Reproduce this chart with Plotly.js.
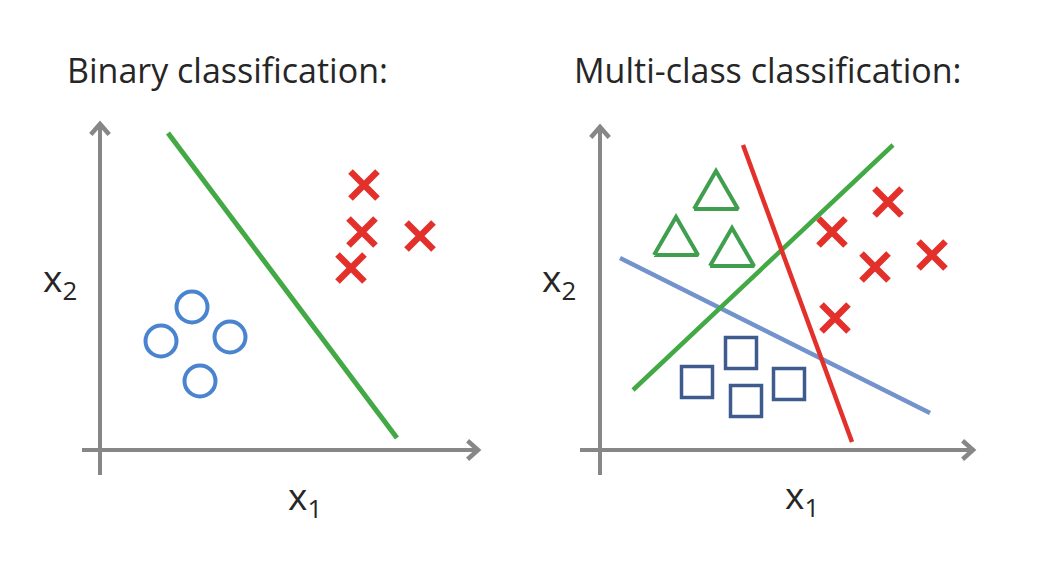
<!DOCTYPE html>
<html><head><meta charset="utf-8">
<script src="https://cdn.plot.ly/plotly-3.0.1.min.js"></script>
<style>html,body{margin:0;padding:0;background:#fff}#chart{width:1058px;height:578px}</style>
</head><body><div id="chart"></div><script>
// ---- text ----
const panelTitles = ["Binary classification:", "Multi-class classification:"];
const xLabelText = "x<sub>1</sub>";
const yLabelText = "x<sub>2</sub>";

// ---- Binary classification (left panel, data units) ----
const binBoundaryX = [1.7, 7.425];
const binBoundaryY = [7.925, 0.3];
const binCrossX = [6.6, 6.55, 6.275, 8.0];
const binCrossY = [6.625, 5.45, 4.55, 5.35];
const binCircleX = [2.3, 1.525, 3.25, 2.5];
const binCircleY = [3.575, 2.725, 2.825, 1.725];

// ---- Multi-class classification (right panel, data units) ----
const redLineX = [3.575, 6.3];
const redLineY = [7.625, 0.2];
const greenLineX = [7.325, 0.825];
const greenLineY = [7.625, 1.5];
const blueLineX = [0.5, 8.25];
const blueLineY = [4.8, 0.925];
const triangleX = [2.9, 1.9, 3.3];
const triangleY = [6.5, 5.35, 5.075];
const squareX = [3.525, 2.425, 3.65, 4.725];
const squareY = [2.425, 1.7, 1.225, 1.65];
const mcCrossX = [5.8, 7.2, 6.875, 8.3, 5.875];
const mcCrossY = [5.45, 6.2, 4.575, 4.875, 3.3];

// ---- axis arrows (data units) ----
const leftAxisX = [-0.45, 9.45];
const leftAxisY = [-0.625, 8.15];
const rightAxisX = [-0.5, 9.325];
const rightAxisY = [-0.625, 8.075];

// ---- styles ----
const RED = '#e3302a', GREEN = '#42a944', TRI_GREEN = '#3f9f4f';
const CIRCLE_BLUE = '#4a84cf', LINE_BLUE = '#7293cc', SQUARE_BLUE = '#3f5b8e';
const GRAY = '#878787';
const TRI_W = 1.1, TRI_H = 0.95;
const HEAD_HALF = 0.23, HEAD_DEPTH = 0.26;

function triangleOutline(xs, ys, w, h) {
  const px = [], py = [];
  xs.forEach((cx, i) => {
    const cy = ys[i];
    px.push(cx - w / 2, cx + w / 2, cx, cx - w / 2, null);
    py.push(cy - h / 2, cy - h / 2, cy + h / 2, cy - h / 2, null);
  });
  return {x: px, y: py};
}
const tri = triangleOutline(triangleX, triangleY, TRI_W, TRI_H);

// axis shafts + chevron heads, built from the extents above
function axisTraces(xref, ax, ay) {
  const common = {xaxis: xref, yaxis: 'y', mode: 'lines', hoverinfo: 'skip'};
  return [
    Object.assign({x: [ax[0], ax[1] - 0.05], y: [0, 0], line: {color: GRAY, width: 4}}, common),
    Object.assign({x: [0, 0], y: [ay[0], ay[1] - 0.05], line: {color: GRAY, width: 4}}, common),
    Object.assign({x: [ax[1] - HEAD_DEPTH, ax[1], ax[1] - HEAD_DEPTH], y: [HEAD_HALF, 0, -HEAD_HALF],
      line: {color: GRAY, width: 4.5}}, common),
    Object.assign({x: [-HEAD_HALF, 0, HEAD_HALF], y: [ay[1] - HEAD_DEPTH, ay[1], ay[1] - HEAD_DEPTH],
      line: {color: GRAY, width: 4.5}}, common)
  ];
}

const traces = [].concat(
  axisTraces('x', leftAxisX, leftAxisY),
  axisTraces('x2', rightAxisX, rightAxisY),
  [
  {x: binBoundaryX, y: binBoundaryY, xaxis: 'x', yaxis: 'y', mode: 'lines',
   line: {color: GREEN, width: 5}},
  {x: binCrossX, y: binCrossY, xaxis: 'x', yaxis: 'y', mode: 'markers',
   marker: {symbol: 'x-thin-open', size: 27, color: RED, line: {color: RED, width: 6.5}}},
  {x: binCircleX, y: binCircleY, xaxis: 'x', yaxis: 'y', mode: 'markers',
   marker: {symbol: 'circle-open', size: 31, color: CIRCLE_BLUE, line: {color: CIRCLE_BLUE, width: 4}}},

  {x: blueLineX, y: blueLineY, xaxis: 'x2', yaxis: 'y', mode: 'lines',
   line: {color: LINE_BLUE, width: 4.5}},
  {x: greenLineX, y: greenLineY, xaxis: 'x2', yaxis: 'y', mode: 'lines',
   line: {color: GREEN, width: 4.5}},
  {x: redLineX, y: redLineY, xaxis: 'x2', yaxis: 'y', mode: 'lines',
   line: {color: RED, width: 4.5}},
  {x: tri.x, y: tri.y, xaxis: 'x2', yaxis: 'y', mode: 'lines',
   line: {color: TRI_GREEN, width: 4}},
  {x: squareX, y: squareY, xaxis: 'x2', yaxis: 'y', mode: 'markers',
   marker: {symbol: 'square-open', size: 31, color: SQUARE_BLUE, line: {color: SQUARE_BLUE, width: 3.5}}},
  {x: mcCrossX, y: mcCrossY, xaxis: 'x2', yaxis: 'y', mode: 'markers',
   marker: {symbol: 'x-thin-open', size: 27, color: RED, line: {color: RED, width: 6.5}}}
  ]
);

const titleFont = {family: 'Open Sans, sans-serif', size: 34, color: '#262626'};
const labelFont = {family: 'Open Sans, sans-serif', size: 37, color: '#262626'};

const annotations = [
  {xref: 'paper', yref: 'paper', x: 65 / 1058, y: 1 - 70 / 578, xanchor: 'left', yanchor: 'middle',
   text: panelTitles[0], showarrow: false, font: titleFont},
  {xref: 'paper', yref: 'paper', x: 572 / 1058, y: 1 - 70 / 578, xanchor: 'left', yanchor: 'middle',
   text: panelTitles[1], showarrow: false, font: titleFont},
  {xref: 'paper', yref: 'paper', x: 41 / 1058, y: 1 - 280 / 578, xanchor: 'left', yanchor: 'middle',
   text: yLabelText, showarrow: false, font: labelFont},
  {xref: 'paper', yref: 'paper', x: 540 / 1058, y: 1 - 280 / 578, xanchor: 'left', yanchor: 'middle',
   text: yLabelText, showarrow: false, font: labelFont},
  {xref: 'paper', yref: 'paper', x: 286 / 1058, y: 1 - 498 / 578, xanchor: 'left', yanchor: 'middle',
   text: xLabelText, showarrow: false, font: labelFont},
  {xref: 'paper', yref: 'paper', x: 783 / 1058, y: 1 - 497 / 578, xanchor: 'left', yanchor: 'middle',
   text: xLabelText, showarrow: false, font: labelFont}
];

const hidden = {visible: false, showgrid: false, zeroline: false, fixedrange: true};
const layout = {
  width: 1058, height: 578,
  margin: {l: 0, r: 0, t: 0, b: 0, pad: 0},
  paper_bgcolor: '#ffffff', plot_bgcolor: 'rgba(0,0,0,0)',
  showlegend: false,
  xaxis: Object.assign({domain: [0, 0.5], range: [-2.5, 10.725]}, hidden),
  xaxis2: Object.assign({domain: [0.5, 1], range: [-1.775, 11.45], anchor: 'y'}, hidden),
  yaxis: Object.assign({domain: [0, 1], range: [-3.2, 11.25]}, hidden),
  annotations: annotations
};
Plotly.newPlot('chart', traces, layout, {staticPlot: true, displayModeBar: false});
</script></body></html>
